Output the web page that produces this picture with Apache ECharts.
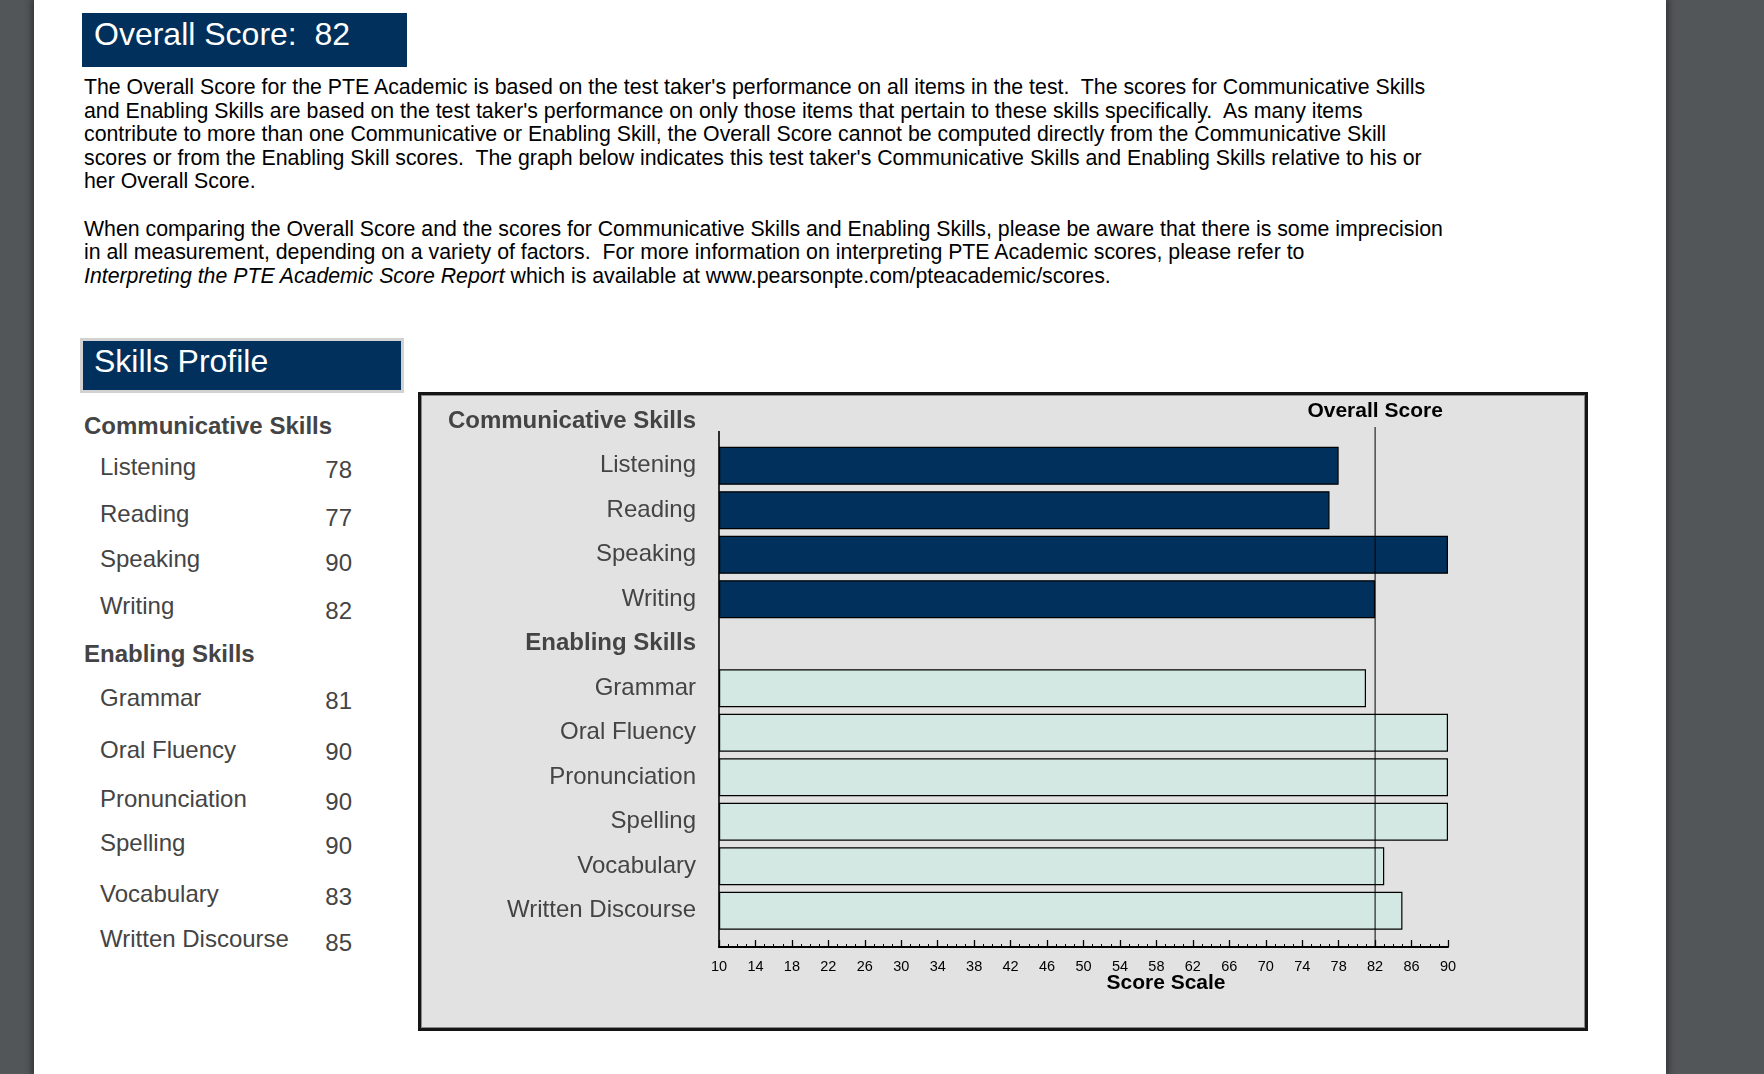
<!DOCTYPE html>
<html>
<head>
<meta charset="utf-8">
<script src="https://cdn.jsdelivr.net/npm/echarts@6.0.0/dist/echarts.min.js"></script>
<style>
html,body{margin:0;padding:0;width:1764px;height:1074px;overflow:hidden;background:#525659;font-family:"Liberation Sans",Arial,sans-serif;}
#page{position:absolute;left:34px;top:0;width:1632px;height:1074px;background:#fff;box-shadow:0 0 7px 2px rgba(0,0,0,0.45);}
.hbox{position:absolute;background:#00305b;color:#fff;font-size:32px;white-space:pre;box-sizing:border-box;}
#ov{left:82px;top:13px;width:325px;height:54px;line-height:43px;padding-left:12px;}
#sp{left:80px;top:338px;width:324px;height:55px;line-height:41px;padding-left:11px;border:3px solid #d2d2d2;}
#para{position:absolute;left:84px;top:76px;font-size:21.3px;line-height:23.6px;white-space:pre;color:#000;}
.lt{position:absolute;font-size:24px;color:#444;white-space:nowrap;line-height:28px;height:28px;}
.lh{font-weight:bold;}
.lv{transform:translateX(-100%);}
#box{position:absolute;left:418px;top:392px;width:1170px;height:639px;box-sizing:border-box;border:3px solid #151515;background:#e2e2e2;box-shadow:inset 0 0 0 1px #8a8a8a;}
#chart{position:absolute;left:0;top:0;width:1764px;height:1074px;}
</style>
</head>
<body>
<div id="page"></div>
<div id="ov" class="hbox"></div>
<div id="para">The Overall Score for the PTE Academic is based on the test taker's performance on all items in the test.  The scores for Communicative Skills
and Enabling Skills are based on the test taker's performance on only those items that pertain to these skills specifically.  As many items
contribute to more than one Communicative or Enabling Skill, the Overall Score cannot be computed directly from the Communicative Skill
scores or from the Enabling Skill scores.  The graph below indicates this test taker's Communicative Skills and Enabling Skills relative to his or
her Overall Score.

When comparing the Overall Score and the scores for Communicative Skills and Enabling Skills, please be aware that there is some imprecision
in all measurement, depending on a variety of factors.  For more information on interpreting PTE Academic scores, please refer to
<i>Interpreting the PTE Academic Score Report</i> which is available at www.pearsonpte.com/pteacademic/scores.</div>
<div id="sp" class="hbox">Skills Profile</div>
<div id="list"></div>
<div id="box"></div>
<div id="chart"></div>
<script>
// ---- data ----
const groupTitles = ['Communicative Skills', 'Enabling Skills'];
const communicativeSkills = ['Listening', 'Reading', 'Speaking', 'Writing'];
const communicativeScores = [78, 77, 90, 82];
const enablingSkills = ['Grammar', 'Oral Fluency', 'Pronunciation', 'Spelling', 'Vocabulary', 'Written Discourse'];
const enablingScores = [81, 90, 90, 90, 83, 85];
const overallScore = 82;
const tickLabels = [10, 14, 18, 22, 26, 30, 34, 38, 42, 46, 50, 54, 58, 62, 66, 70, 74, 78, 82, 86, 90];

// ---- header ----
document.getElementById('ov').textContent = 'Overall Score:  ' + overallScore;

// ---- left list (layout constants) ----
const headerY = [426, 654];
const commLabelY = [467, 514, 559, 606];
const commValueY = [470, 518, 563, 611];
const enLabelY = [698, 750, 799, 843, 894, 939];
const enValueY = [701, 752, 802, 846, 897, 943];
const list = document.getElementById('list');
function addText(txt, left, cy, cls) {
  const d = document.createElement('div');
  d.className = 'lt ' + (cls || '');
  d.textContent = txt;
  d.style.left = left + 'px';
  d.style.top = (cy - 14) + 'px';
  list.appendChild(d);
}
addText(groupTitles[0], 84, headerY[0], 'lh');
communicativeSkills.forEach((s, i) => {
  addText(s, 100, commLabelY[i]);
  addText(String(communicativeScores[i]), 352, commValueY[i], 'lv');
});
addText(groupTitles[1], 84, headerY[1], 'lh');
enablingSkills.forEach((s, i) => {
  addText(s, 100, enLabelY[i]);
  addText(String(enablingScores[i]), 352, enValueY[i], 'lv');
});

// ---- chart ----
const FONT = '"Liberation Sans", Arial, sans-serif';
const categories = [groupTitles[0]].concat(communicativeSkills, [groupTitles[1]], enablingSkills);
const commData = categories.map(c => {
  const i = communicativeSkills.indexOf(c);
  return i >= 0 ? communicativeScores[i] : '-';
});
const enData = categories.map(c => {
  const i = enablingSkills.indexOf(c);
  return i >= 0 ? enablingScores[i] : '-';
});

const chart = echarts.init(document.getElementById('chart'), null, {renderer: 'canvas'});
chart.setOption({
  animation: false,
  backgroundColor: 'transparent',
  textStyle: {fontFamily: FONT},
  grid: {left: 719, right: 316, top: 399, height: 534, containLabel: false, outerBoundsMode: 'none'},
  xAxis: [{
    type: 'value', min: 10, max: 90, interval: 1, startValue: 10, position: 'bottom', offset: 14,
    axisLine: {show: true, lineStyle: {color: '#000', width: 2}},
    axisTick: {show: true, inside: true, length: 3, lineStyle: {color: '#000', width: 1}},
    axisLabel: {customValues: tickLabels, margin: 12, fontSize: 14.5, color: '#000', fontFamily: FONT},
    splitLine: {show: false}
  }, {
    type: 'value', min: 10, max: 90, interval: 1, position: 'bottom', offset: 14,
    axisLine: {show: false},
    axisTick: {show: true, inside: true, length: 7, customValues: tickLabels, lineStyle: {color: '#000', width: 1.3}},
    axisLabel: {show: false},
    splitLine: {show: false}
  }],
  yAxis: {
    type: 'category', inverse: true, data: categories,
    axisLine: {show: false}, axisTick: {show: false}, splitLine: {show: false},
    axisLabel: {
      margin: 23,
      formatter: v => groupTitles.indexOf(v) >= 0 ? '{h|' + v + '}' : '{n|' + v + '}',
      rich: {
        h: {fontSize: 24, fontWeight: 'bold', color: '#444', fontFamily: FONT},
        n: {fontSize: 24, color: '#444', fontFamily: FONT}
      }
    }
  },
  series: [{
    type: 'bar', name: groupTitles[0], data: commData, barWidth: 38, barGap: '-100%',
    itemStyle: {color: '#00305b', borderColor: '#000', borderWidth: 1.2}
  }, {
    type: 'bar', name: groupTitles[1], data: enData, barWidth: 38, barGap: '-100%',
    itemStyle: {color: '#d4e8e3', borderColor: '#000', borderWidth: 1.2}
  }]
});

const xStart = chart.convertToPixel({xAxisIndex: 0}, tickLabels[0]);
const xOverall = chart.convertToPixel({xAxisIndex: 0}, overallScore);
chart.setOption({
  graphic: [
    {type: 'line', z: 50, shape: {x1: xStart, y1: 431, x2: xStart, y2: 948}, style: {stroke: '#000', lineWidth: 1.6}},
    {type: 'line', z: 60, shape: {x1: xOverall, y1: 427, x2: xOverall, y2: 947}, style: {stroke: '#000', lineWidth: 1}},
    {type: 'text', z: 60, x: xOverall, y: 411, style: {text: 'Overall Score', font: 'bold 21px ' + FONT, fill: '#000', align: 'center', verticalAlign: 'middle'}},
    {type: 'text', z: 60, x: 1166, y: 983, style: {text: 'Score Scale', font: 'bold 21px ' + FONT, fill: '#000', align: 'center', verticalAlign: 'middle'}}
  ]
});
</script>
</body>
</html>
